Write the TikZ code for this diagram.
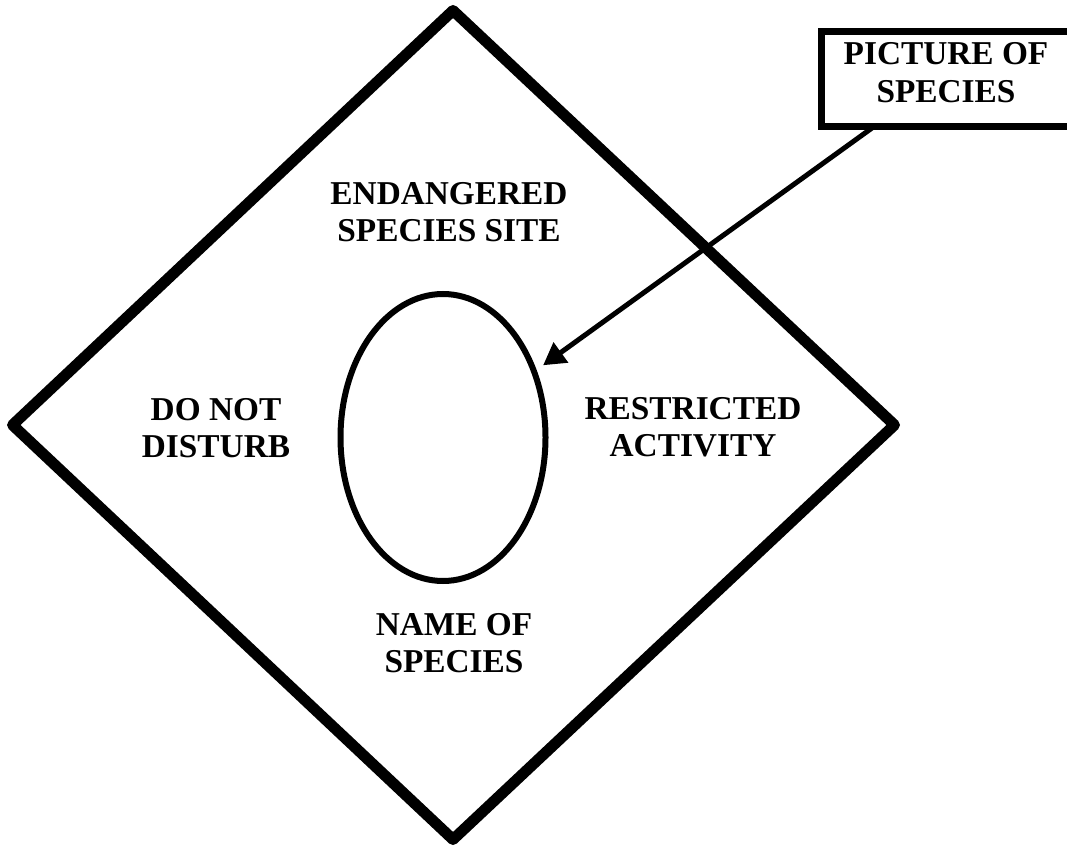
\documentclass[tikz,border=0pt]{standalone}
\usepackage{fontspec}
\setmainfont{Liberation Serif}
\usetikzlibrary{arrows.meta,shapes.geometric}
\tikzset{
  lbl/.style={font=\bfseries\fontsize{25}{28}\selectfont, align=center, inner sep=0pt},
  diamondline/.style={line width=8.25pt, line join=round},
  ovalbox/.style={ellipse, draw, line width=4.5pt, inner sep=0pt, minimum width=153.75pt, minimum height=215.25pt},
  tagbox/.style={draw, line width=5.25pt, inner sep=0pt, minimum width=187.9pt, minimum height=71.25pt},
  pointer/.style={line width=3.75pt, -{Triangle[length=16.5pt,width=18pt]}, shorten >=6pt}
}
\begin{document}
\begin{tikzpicture}[x=0.75pt,y=-0.75pt]
\useasboundingbox (0,0) rectangle (1067,848);
\fill[white] (0,0) rectangle (1067,848);
\clip (0,0) rectangle (1067,848);
% diamond
\coordinate (dtop) at (453,10.5);
\coordinate (dright) at (894.5,425);
\coordinate (dbot) at (453,839.5);
\coordinate (dleft) at (12.5,425);
\draw[diamondline] (dtop) -- (dright) -- (dbot) -- (dleft) -- cycle;
% oval
\node[ovalbox] (pic) at (443,437.5) {};
% labels
\node[lbl] (site) at (449,212) {ENDANGERED\\SPECIES SITE};
\node[lbl] (dnd) at (216,428) {DO NOT\\DISTURB};
\node[lbl] (ra) at (693,427.5) {RESTRICTED\\ACTIVITY};
\node[lbl] (name) at (454,643) {NAME OF\\SPECIES};
% tag box
\node[tagbox] (tag) at (946.75,79) {};
\node[lbl] (tagtext) at (946,72.5) {PICTURE OF\\SPECIES};
\coordinate (astart) at (872,128);
\draw[pointer] (astart) -- (pic);
\end{tikzpicture}
\end{document}
